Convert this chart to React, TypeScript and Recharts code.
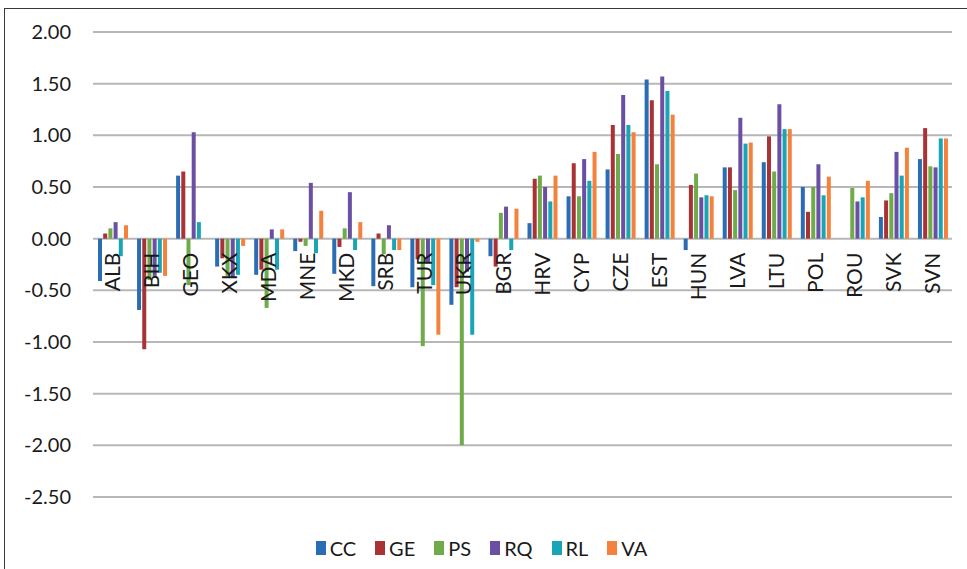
import React from 'react';
import { BarChart, Bar, XAxis, YAxis, CartesianGrid, Legend } from 'recharts';

const categories = ['ALB','BIH','GEO','XKX','MDA','MNE','MKD','SRB','TUR','UKR','BGR','HRV','CYP','CZE','EST','HUN','LVA','LTU','POL','ROU','SVK','SVN'];

const CC = [-0.41,-0.69,0.61,-0.27,-0.35,-0.12,-0.34,-0.46,-0.47,-0.64,-0.17,0.15,0.41,0.67,1.54,-0.11,0.69,0.74,0.50,null,0.21,0.77];
const GE = [0.05,-1.07,0.65,-0.19,-0.30,-0.03,-0.08,0.05,-0.20,-0.47,-0.27,0.58,0.73,1.10,1.34,0.52,0.69,0.99,0.26,null,0.37,1.07];
const PS = [0.10,-0.40,-0.45,-0.36,-0.67,-0.07,0.10,-0.15,-1.04,-2.00,0.25,0.61,0.41,0.82,0.72,0.63,0.47,0.65,0.50,0.49,0.44,0.70];
const RQ = [0.16,-0.36,1.03,-0.38,0.09,0.54,0.45,0.13,-0.23,-0.32,0.31,0.50,0.77,1.39,1.57,0.40,1.17,1.30,0.72,0.36,0.84,0.69];
const RL = [-0.17,-0.33,0.16,-0.35,-0.30,-0.14,-0.11,-0.11,-0.45,-0.93,-0.11,0.36,0.56,1.10,1.43,0.42,0.92,1.06,0.42,0.40,0.61,0.97];
const VA = [0.13,-0.36,null,-0.07,0.09,0.27,0.16,-0.11,-0.93,-0.03,0.29,0.61,0.84,1.03,1.20,0.41,0.93,1.06,0.60,0.56,0.88,0.97];

const yTicks = [-2.5,-2.0,-1.5,-1.0,-0.5,0,0.5,1.0,1.5,2.0];

const seriesNames = ['CC','GE','PS','RQ','RL','VA'];
const seriesValues = [CC, GE, PS, RQ, RL, VA];
const seriesColors = ['#2b6db5','#a93235','#6fab4a','#6a4fa3','#19a5b6','#f4823d'];

const data = categories.map((c, i) => {
  const row: any = { name: c };
  seriesNames.forEach((s, k) => { row[s] = seriesValues[k][i]; });
  return row;
});

const W = 967;
const H = 569;
const M_TOP = 32;
const X_AXIS_H = 30;
const M_BOTTOM = 72 - X_AXIS_H;
const PLOT_H = H - M_TOP - M_BOTTOM - X_AXIS_H;
const Y_MIN = -2.5;
const Y_MAX = 2.0;
const FONT = 'Lato, "Open Sans", sans-serif';

const renderCategoryTick = (props: any) => {
  const { x, y, payload } = props;
  const zeroY = y - PLOT_H * (0 - Y_MIN) / (Y_MAX - Y_MIN);
  const ty = zeroY + 14;
  return (
    <text
      key={`t-${payload.value}`}
      x={x}
      y={ty}
      dy="0.36em"
      transform={`rotate(-90 ${x} ${ty})`}
      textAnchor="end"
      fontSize={21}
      fontFamily={FONT}
      fill="#1a1a1a"
    >
      {payload.value}
    </text>
  );
};

const LegendContent = () => (
  <div style={{ display: 'flex', justifyContent: 'center', alignItems: 'center', fontFamily: FONT, fontSize: 20, color: '#1a1a1a', paddingRight: 4 }}>
    {seriesNames.map((s, k) => (
      <div key={s} style={{ display: 'flex', alignItems: 'center', marginRight: k < seriesNames.length - 1 ? 19 : 0 }}>
        <span style={{ display: 'inline-block', width: 10, height: 14, background: seriesColors[k], marginRight: 4 }} />
        <span>{s}</span>
      </div>
    ))}
  </div>
);

export default function App() {
  return (
    <div style={{ position: 'absolute', left: 0, top: 0, width: W, height: H, background: '#fff', overflow: 'hidden' }}>
      <div style={{ position: 'absolute', left: 4, top: 8, width: 975, height: 580, border: '1.5px solid #3a3a3a', boxSizing: 'border-box' }} />
      <div style={{ position: 'absolute', left: 0, top: 0 }}>
        <BarChart
          width={W}
          height={H}
          data={data}
          margin={{ top: M_TOP, right: 15, bottom: M_BOTTOM, left: 0 }}
          barSize={4}
          barGap={1.2}
        >
          <CartesianGrid vertical={false} stroke="#b7b7b7" strokeWidth={2} />
          <YAxis
            width={93}
            domain={[Y_MIN, Y_MAX]}
            ticks={yTicks}
            interval={0}
            axisLine={false}
            tickLine={false}
            tickSize={0}
            tickMargin={22}
            tickFormatter={(v: number) => v.toFixed(2)}
            tick={{ fontSize: 20, fontFamily: FONT, fill: '#1a1a1a' }}
          />
          {seriesNames.map((s, k) => (
            <Bar key={s} dataKey={s} fill={seriesColors[k]} isAnimationActive={false} />
          ))}
          <XAxis
            dataKey="name"
            height={X_AXIS_H}
            axisLine={false}
            tickLine={false}
            tickSize={0}
            tickMargin={0}
            interval={0}
            tick={renderCategoryTick}
          />
          <Legend
            verticalAlign="middle"
            align="center"
            layout="horizontal"
            content={<LegendContent />}
            wrapperStyle={{ top: 536, left: 0, width: W }}
          />
        </BarChart>
      </div>
    </div>
  );
}
